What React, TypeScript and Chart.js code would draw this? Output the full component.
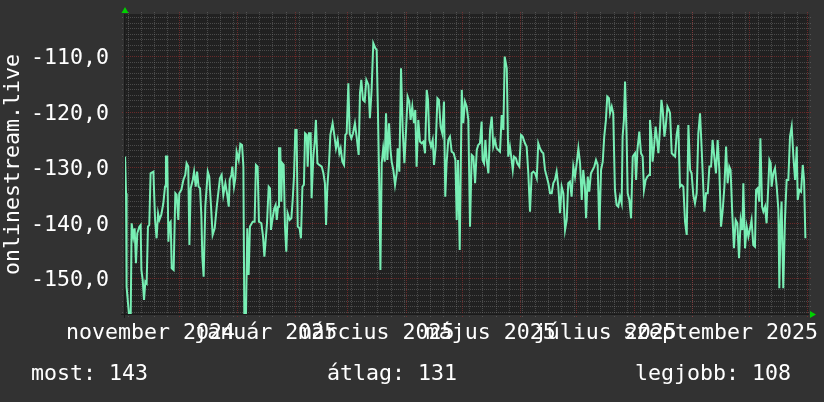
import { useEffect, useRef } from 'react';
import { Chart, registerables } from 'chart.js';

Chart.register(...registerables);

// x = days since 1 November 2024, y = value
const daysPart1 = [1.4,1.9,2.2,3.5,4.4,4.9,5.8,6.5,7.2,7.9,9.0,9.7,10.1,10.8,11.5,12.2,12.9,13.6,14.3,15.0,16.5,17.4,18.2,19.0,19.7,20.7,21.8,22.7,23.2,23.9,24.5,25.0,25.7,26.3,27.3,28.2,28.9,29.8,30.3,31.4,32.5,33.5,34.2,35.1,35.7,36.4,37.5,38.2,39.1,39.8,40.6,41.4,42.1,42.6,43.3,44.2,45.5,46.3,47.2,48.1,49.2,50.3,51.3,52.0,52.9,53.8,54.9,55.9,56.7,57.2,58.1,58.6,59.5,60.2,60.9,62.0,62.9,63.8,64.5,65.0,65.9,66.6,67.3,68.0,69.5,70.5,71.2,72.1,72.8,74.1,75.0,75.7,76.4,77.1,78.0,78.7,79.2,80.1,81.0,81.7,82.3,83.0,83.5,84.2,84.7,85.3,86.0,86.7,87.4,88.1,89.2,90.1];
const valuesPart1 = [-128.1,-134.7,-151.5,-156.6,-156.6,-140.1,-142.5,-141.0,-147.3,-141.9,-140.7,-140.4,-148.5,-150.3,-153.9,-150.6,-150.9,-140.7,-140.4,-131.1,-130.8,-139.5,-142.8,-138.3,-139.5,-138.6,-136.5,-133.5,-128.1,-128.1,-143.4,-140.1,-139.8,-148.2,-148.5,-134.7,-135.0,-139.5,-134.7,-134.1,-132.3,-131.4,-129.3,-129.9,-144.0,-133.8,-132.3,-130.8,-133.5,-130.8,-133.5,-133.8,-138.9,-146.1,-149.7,-137.1,-130.8,-131.7,-136.8,-142.2,-141.0,-137.1,-134.1,-132.0,-131.4,-135.0,-132.9,-135.0,-137.1,-132.3,-131.4,-129.9,-133.5,-132.0,-127.2,-128.7,-125.8,-126.0,-129.9,-156.6,-156.3,-141.0,-149.4,-140.7,-139.8,-139.8,-129.6,-129.9,-139.8,-140.1,-142.5,-146.1,-143.1,-140.1,-133.5,-133.8,-141.3,-139.2,-137.4,-136.8,-139.5,-137.1,-126.6,-126.6,-136.2,-129.3,-129.6,-140.7,-145.2,-138.3,-139.5,-139.2];

const daysPart2 = [90.8,91.5,92.2,92.9,93.5,94.5,95.2,96.0,96.8,97.4,98.3,98.8,99.5,100.4,100.9,101.8,102.5,103.2,104.0,105.0,106.3,107.2,108.0,108.6,109.3,110.2,110.9,112.1,113.0,113.9,114.8,115.7,116.4,117.3,118.2,118.9,119.6,120.5,121.2,122.1,123.0,124.0,124.9,126.0,126.7,127.4,128.3,129.2,130.1,131.2,132.0,132.9,133.8,134.9,135.6,136.3,137.0,137.6,138.3,139.1,139.9,140.6,141.3,142.2,142.9,143.6,144.5,145.4,146.3,146.8,147.7,148.6,149.5,150.4,151.2,152.1,153.0,153.7,154.6,155.5,156.2,156.9,157.8,158.7,159.6,160.5,161.4,162.3,163.0,163.7,164.6,165.5,166.2,167.1,168.0,168.8,169.7,170.6,171.5,172.2,172.9,173.8,174.7,175.6,176.7,177.6,178.3,179.0,179.9];
const valuesPart2 = [-135.9,-131.7,-123.3,-123.3,-140.7,-141.0,-142.8,-133.5,-133.2,-123.9,-124.2,-129.9,-123.9,-123.9,-135.6,-128.1,-125.7,-121.5,-129.3,-129.6,-129.9,-131.1,-132.9,-140.4,-133.5,-129.3,-124.2,-122.1,-124.2,-126.6,-125.1,-127.5,-126.6,-129.0,-129.6,-124.2,-123.9,-114.9,-123.9,-124.8,-123.9,-122.1,-124.5,-127.8,-116.7,-114.3,-117.9,-118.2,-114.3,-115.2,-121.2,-116.1,-107.7,-108.6,-108.9,-120.3,-133.5,-148.5,-129.3,-126.6,-129.0,-120.3,-128.7,-122.1,-126.6,-129.0,-130.5,-133.2,-131.1,-126.6,-130.8,-112.2,-123.3,-129.3,-123.9,-117.3,-118.2,-121.5,-119.1,-122.1,-119.7,-129.9,-121.5,-125.4,-125.7,-125.4,-127.5,-116.1,-117.9,-125.1,-126.3,-125.1,-129.6,-126.3,-117.6,-117.9,-122.7,-123.9,-118.2,-135.3,-129.3,-125.1,-124.5,-127.2,-127.5,-128.7,-139.5,-128.7,-144.9];

const daysPart3 = [181.0,181.8,182.7,183.6,184.5,185.4,186.3,187.2,188.1,189.0,189.8,190.7,191.6,192.1,192.9,193.6,194.3,195.2,196.1,197.0,197.8,198.7,199.6,200.5,201.4,202.3,203.2,203.9,205.0,205.8,206.7,207.6,208.2,208.9,209.9,210.6,211.7,212.6,213.5,214.7,215.6,216.5,217.4,218.3,219.2,220.1,221.0,221.8,222.7,223.6,224.5,225.4,226.3,227.2,228.1,229.0,229.8,230.7,231.6,232.5,233.4,234.3,235.2,236.1,237.0,237.8,238.7,239.6,240.5,241.4,242.3,243.2,244.1,245.0,245.8,246.7,247.3,248.2,249.0,249.9,250.8,251.7,252.6,253.5,254.4,255.3,256.2,257.0,257.9,258.6,259.5,260.1,261.0,261.8,262.7,263.6,264.5,265.4,266.3,266.8,267.5,268.1,268.9,269.5,270.4,271.3];
const valuesPart3 = [-116.1,-122.1,-118.2,-119.1,-121.5,-140.7,-127.8,-128.1,-132.9,-126.9,-126.0,-125.7,-121.8,-128.7,-129.3,-125.1,-128.7,-131.1,-123.3,-120.9,-126.3,-125.1,-126.6,-126.9,-127.2,-120.6,-123.3,-110.1,-112.2,-128.1,-126.3,-128.7,-130.5,-128.1,-128.4,-129.3,-129.9,-124.2,-124.5,-125.7,-126.3,-131.1,-138.0,-131.1,-130.8,-131.1,-132.0,-125.7,-126.6,-127.2,-127.5,-130.5,-131.7,-132.9,-134.7,-134.7,-132.9,-132.3,-130.8,-133.5,-138.3,-133.5,-134.7,-141.3,-139.5,-132.9,-132.6,-135.3,-129.9,-131.7,-129.3,-126.6,-129.3,-135.9,-130.5,-133.5,-139.2,-131.7,-134.4,-131.1,-130.5,-129.9,-128.7,-129.6,-141.3,-130.5,-129.0,-124.5,-121.5,-117.3,-117.6,-120.3,-119.1,-120.3,-134.1,-136.8,-137.1,-135.3,-136.5,-124.5,-121.5,-114.6,-123.9,-134.7,-135.9,-139.2];

const daysPart4 = [272.2,273.4,274.0,274.7,275.7,276.6,277.5,278.2,279.1,280.0,280.9,281.4,282.3,282.8,283.6,284.4,285.0,285.9,286.8,287.5,288.2,289.1,289.8,290.7,291.5,292.1,293.0,293.9,294.8,295.6,296.5,297.4,298.3,299.2,300.1,301.0,301.9,302.8,303.6,304.5,305.4,306.3,307.2,308.1,309.0,309.9,310.4,311.3,312.2,313.1,314.0,314.8,315.7,316.6,317.5,318.4,319.3,320.2,321.1,322.0,322.8,323.7,324.4,325.3,326.2,327.1,328.0,328.9,329.8,330.7,331.2,332.1,333.0,333.9,334.8,335.6,336.5,337.4,338.0,338.8,339.7,340.3,341.2,341.9,342.8,343.6,344.5,345.1,345.8,346.3,347.2,348.1,349.0,349.9,350.4,351.1,351.6,352.5,353.4,354.3,355.2,356.1,357.0,357.9,358.8,359.7,360.2,361.1,362.0,362.9,363.6,364.3];
const valuesPart4 = [-128.1,-127.5,-132.3,-126.9,-123.6,-127.5,-128.1,-134.1,-132.3,-131.7,-131.4,-121.5,-125.1,-129.0,-126.3,-122.7,-124.5,-127.5,-122.7,-117.9,-119.7,-124.5,-122.7,-119.1,-119.7,-120.3,-127.5,-127.8,-128.1,-124.2,-122.4,-133.5,-133.2,-133.5,-139.8,-142.2,-122.4,-130.5,-131.1,-135.0,-136.5,-134.7,-123.9,-120.3,-126.9,-134.1,-138.0,-134.7,-134.7,-129.9,-129.9,-125.1,-128.1,-131.1,-125.1,-130.5,-140.7,-137.7,-133.5,-126.3,-132.9,-129.9,-130.5,-138.3,-144.6,-139.5,-140.1,-146.4,-139.5,-141.3,-132.9,-144.6,-140.7,-142.5,-141.0,-139.5,-144.0,-144.3,-134.1,-133.8,-136.2,-124.8,-137.1,-138.0,-137.1,-140.1,-133.5,-128.7,-129.3,-133.5,-131.1,-130.2,-133.5,-137.7,-151.8,-139.8,-136.2,-151.8,-139.5,-132.3,-132.3,-124.5,-122.7,-128.1,-132.3,-126.3,-135.9,-134.1,-134.4,-129.6,-132.3,-142.8];

const yTickValues = [-150, -140, -130, -120, -110];
const yTickLabels = ['-150,0', '-140,0', '-130,0', '-120,0', '-110,0'];
const monthStartDays = [30, 61, 92, 120, 151, 181, 212, 242, 273, 304, 334, 365];
const firstMondayDay = 3;
const monthLabels = ['november 2024', 'január 2025', 'március 2025', 'május 2025', 'július 2025', 'szeptember 2025'];
const monthLabelDays = [15, 76.5, 135.5, 196.5, 257.5, 319];
const legendTexts = ['most: 143', 'átlag: 131', 'legjobb: 108'];
const legendX = [31, 327, 635];
const titleText = 'onlinestream.live';

const X_MIN = 0.82;
const X_MAX = 366.23;
const Y_MIN = -156.6;
const Y_MAX = -102.44;

const FONT = '21.6px "DejaVu Sans Mono", monospace';
const BG = '#323232';
const PLOT_BG = '#212121';
const LINE_COLOR = '#78eeb4';
const MINOR_COLOR = 'rgba(125,125,125,0.45)';
const MAJOR_COLOR = 'rgba(165,50,50,0.55)';
const ARROW_COLOR = '#00d000';

const rrdPlugin = {
  id: 'rrdStyle',
  beforeDraw(chart: any) {
    const { ctx, chartArea: a } = chart;
    ctx.save();
    ctx.fillStyle = BG;
    ctx.fillRect(0, 0, chart.width, chart.height);
    ctx.fillStyle = PLOT_BG;
    ctx.fillRect(a.left, a.top, a.right - a.left, a.bottom - a.top);
    ctx.restore();
  },
  beforeDatasetsDraw(chart: any) {
    const { ctx, chartArea: a, scales } = chart;
    const xs = scales.x;
    const ys = scales.y;
    ctx.save();
    ctx.lineWidth = 1;
    ctx.setLineDash([1, 1]);
    const hLine = (v: number, color: string) => {
      const py = Math.round(ys.getPixelForValue(v)) + 0.5;
      ctx.strokeStyle = color;
      ctx.beginPath();
      ctx.moveTo(a.left - 2, py);
      ctx.lineTo(a.right + 2, py);
      ctx.stroke();
    };
    const vLine = (d: number, color: string) => {
      const px = Math.round(xs.getPixelForValue(d)) + 0.5;
      ctx.strokeStyle = color;
      ctx.beginPath();
      ctx.moveTo(px, a.top - 2);
      ctx.lineTo(px, a.bottom + 2);
      ctx.stroke();
    };
    for (let v = Math.ceil(Y_MIN); v <= Y_MAX; v++) {
      if (v % 10 !== 0) hLine(v, MINOR_COLOR);
    }
    for (let d = firstMondayDay; d < X_MAX; d += 7) vLine(d, MINOR_COLOR);
    yTickValues.forEach((v) => hLine(v, MAJOR_COLOR));
    monthStartDays.forEach((d) => vLine(d, MAJOR_COLOR));
    ctx.restore();
  },
  afterDatasetsDraw(chart: any) {
    const { ctx, chartArea: a, scales } = chart;
    const xs = scales.x;
    const ys = scales.y;
    ctx.save();
    // axes
    ctx.strokeStyle = '#1a1a1a';
    ctx.lineWidth = 1;
    ctx.beginPath();
    ctx.moveTo(a.left + 0.5, a.top);
    ctx.lineTo(a.left + 0.5, a.bottom + 3);
    ctx.moveTo(a.left - 3, a.bottom - 0.5);
    ctx.lineTo(a.right, a.bottom - 0.5);
    ctx.stroke();
    // arrows
    ctx.fillStyle = ARROW_COLOR;
    ctx.beginPath();
    ctx.moveTo(a.left - 2.5, a.top - 1);
    ctx.lineTo(a.left + 4.5, a.top - 1);
    ctx.lineTo(a.left + 1, a.top - 7);
    ctx.closePath();
    ctx.fill();
    ctx.beginPath();
    ctx.moveTo(a.right + 1, a.bottom - 4);
    ctx.lineTo(a.right + 1, a.bottom + 3);
    ctx.lineTo(a.right + 7, a.bottom - 0.5);
    ctx.closePath();
    ctx.fill();

    // texts
    ctx.fillStyle = '#ffffff';
    ctx.font = FONT;
    ctx.textBaseline = 'alphabetic';
    ctx.textAlign = 'right';
    yTickValues.forEach((v, i) => {
      const py = Math.round(ys.getPixelForValue(v));
      ctx.fillText(yTickLabels[i], a.left - 15, py + 8);
    });
    ctx.textAlign = 'center';
    monthLabelDays.forEach((d, i) => {
      ctx.fillText(monthLabels[i], xs.getPixelForValue(d), a.bottom + 24);
    });
    ctx.textAlign = 'left';
    legendTexts.forEach((t, i) => {
      ctx.fillText(t, legendX[i], a.bottom + 65);
    });
    ctx.save();
    ctx.translate(18.5, (a.top + a.bottom) / 2);
    ctx.rotate(-Math.PI / 2);
    ctx.textAlign = 'center';
    ctx.fillText(titleText, 0, 0);
    ctx.restore();
    ctx.restore();
  },
};

export default function App() {
  const canvasRef = useRef<HTMLCanvasElement | null>(null);

  useEffect(() => {
    document.body.style.margin = '0';
    document.body.style.background = BG;
    const canvas = canvasRef.current;
    if (!canvas) return;
    const days = [...daysPart1, ...daysPart2, ...daysPart3, ...daysPart4];
    const values = [...valuesPart1, ...valuesPart2, ...valuesPart3, ...valuesPart4];
    const n = Math.min(days.length, values.length);
    const points = [] as { x: number; y: number }[];
    for (let i = 0; i < n; i++) points.push({ x: days[i], y: values[i] });

    const chart = new Chart(canvas, {
      type: 'line',
      data: {
        datasets: [
          {
            data: points,
            borderColor: LINE_COLOR,
            borderWidth: 2,
            pointRadius: 0,
            tension: 0,
            fill: false,
          },
        ],
      },
      options: {
        responsive: false,
        animation: false,
        devicePixelRatio: 1,
        events: [],
        layout: { padding: { left: 124, top: 14, right: 15, bottom: 87 } },
        scales: {
          x: { type: 'linear', min: X_MIN, max: X_MAX, display: false },
          y: { type: 'linear', min: Y_MIN, max: Y_MAX, display: false },
        },
        plugins: { legend: { display: false }, tooltip: { enabled: false } },
      },
      plugins: [rrdPlugin],
    });
    return () => chart.destroy();
  }, []);

  return <canvas ref={canvasRef} width={824} height={402} style={{ display: 'block', width: 824, height: 402 }} />;
}
